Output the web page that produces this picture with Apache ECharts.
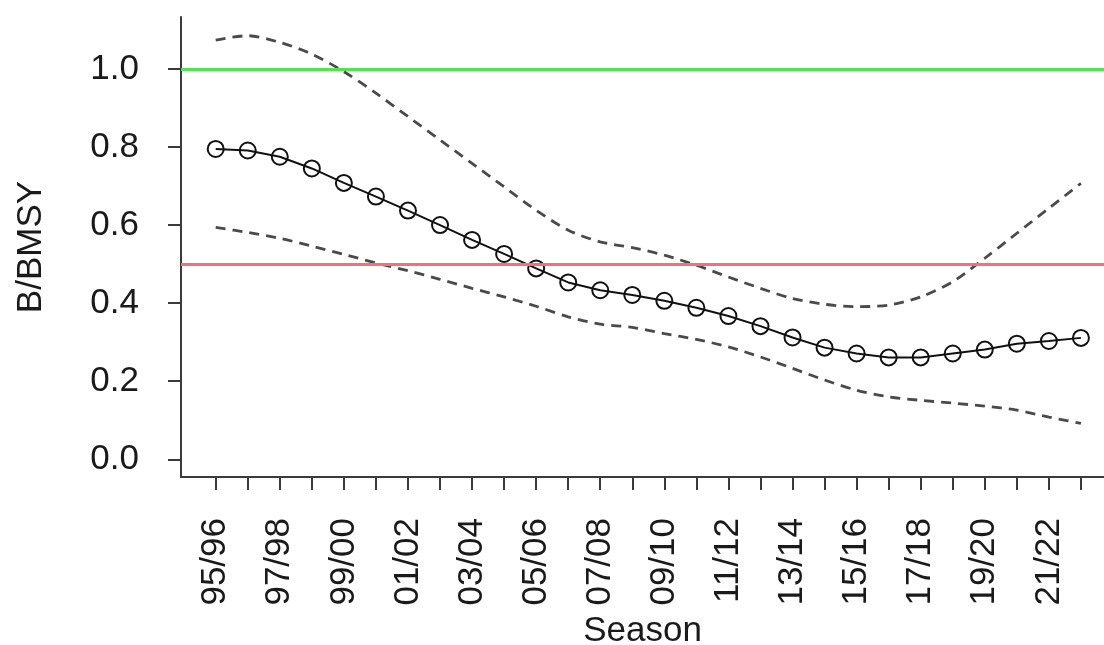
<!DOCTYPE html>
<html>
<head>
<meta charset="utf-8">
<script src="https://cdn.jsdelivr.net/npm/echarts@6/dist/echarts.min.js"></script>
<style>
html,body{margin:0;padding:0;background:#fff;}
#chart{width:1104px;height:645px;}
</style>
</head>
<body>
<div id="chart"></div>
<script>
const seasons = ['95/96','96/97','97/98','98/99','99/00','00/01','01/02','02/03','03/04','04/05',
  '05/06','06/07','07/08','08/09','09/10','10/11','11/12','12/13','13/14','14/15',
  '15/16','16/17','17/18','18/19','19/20','20/21','21/22','22/23'];
const xTickLabels = ['95/96','97/98','99/00','01/02','03/04','05/06','07/08','09/10','11/12','13/14','15/16','17/18','19/20','21/22'];
const yTicks = [0.0, 0.2, 0.4, 0.6, 0.8, 1.0];
const estimate = [0.795,0.791,0.775,0.745,0.708,0.673,0.637,0.600,0.562,0.526,
  0.489,0.453,0.433,0.421,0.406,0.388,0.367,0.341,0.312,0.286,
  0.271,0.261,0.261,0.271,0.281,0.296,0.303,0.311];
const upper = [1.074,1.085,1.068,1.038,0.993,0.938,0.878,0.818,0.758,0.698,
  0.638,0.587,0.557,0.542,0.523,0.497,0.467,0.438,0.412,0.397,
  0.391,0.395,0.416,0.455,0.515,0.579,0.643,0.707];
const lower = [0.594,0.581,0.566,0.546,0.525,0.503,0.483,0.461,0.438,0.416,
  0.392,0.365,0.346,0.338,0.322,0.307,0.288,0.262,0.233,0.203,
  0.177,0.160,0.151,0.144,0.136,0.126,0.108,0.092];
const targetLevel = [1.0];
const limitLevel = [0.5];

const toPairs = arr => arr.map((v, i) => [i, v]);
const FONT = '"Liberation Sans", Arial, Helvetica, sans-serif';
const TXT = '#1a1a1a';
const AX = '#3a3a3a';

const chart = echarts.init(document.getElementById('chart'), null, {renderer: 'canvas'});
chart.setOption({
  animation: false,
  backgroundColor: '#ffffff',
  grid: {left: 181, right: 0, top: 17, bottom: 168, containLabel: false, outerBoundsMode: 'none'},
  xAxis: {
    type: 'value',
    min: -1.083,
    max: 27.72,
    name: 'Season',
    nameLocation: 'middle',
    nameGap: 137,
    nameTextStyle: {fontFamily: FONT, fontSize: 35, color: TXT},
    axisLine: {show: true, onZero: false, lineStyle: {color: AX, width: 2}},
    axisTick: {show: true, length: 13, lineStyle: {color: AX, width: 2},
      customValues: seasons.map((s, i) => i)},
    axisLabel: {
      show: true, rotate: 90, margin: 41,
      fontFamily: FONT, fontSize: 35, color: TXT,
      customValues: xTickLabels.map(l => seasons.indexOf(l)),
      formatter: v => seasons[Math.round(v)]
    },
    splitLine: {show: false}
  },
  yAxis: {
    type: 'value',
    min: -0.0454,
    max: 1.133,
    name: 'B/BMSY',
    nameLocation: 'middle',
    nameRotate: 90,
    nameGap: 132,
    nameTextStyle: {fontFamily: FONT, fontSize: 35, color: TXT},
    axisLine: {show: true, onZero: false, lineStyle: {color: AX, width: 2}},
    axisTick: {show: true, length: 13, lineStyle: {color: AX, width: 2}, customValues: yTicks},
    axisLabel: {
      show: true, margin: 42,
      fontFamily: FONT, fontSize: 35, color: TXT,
      customValues: yTicks,
      formatter: v => v.toFixed(1)
    },
    splitLine: {show: false}
  },
  series: [
    {
      type: 'line', data: [], silent: true,
      markLine: {
        silent: true, symbol: ['none','none'], label: {show: false},
        lineStyle: {type: 'solid', width: 3, color: '#55e055'},
        data: targetLevel.map(v => ({yAxis: v}))
      }
    },
    {
      type: 'line', data: [], silent: true,
      markLine: {
        silent: true, symbol: ['none','none'], label: {show: false},
        lineStyle: {type: 'solid', width: 3, color: '#f2707c'},
        data: limitLevel.map(v => ({yAxis: v}))
      }
    },
    {
      name: 'upper', type: 'line', data: toPairs(upper), smooth: 0.3,
      showSymbol: false, symbol: 'none',
      lineStyle: {color: '#4a4a4a', width: 2.8, type: [10, 7]}
    },
    {
      name: 'lower', type: 'line', data: toPairs(lower), smooth: 0.3,
      showSymbol: false, symbol: 'none',
      lineStyle: {color: '#4a4a4a', width: 2.8, type: [10, 7]}
    },
    {
      name: 'estimate', type: 'line', data: toPairs(estimate),
      symbol: 'circle', symbolSize: 16, showSymbol: true,
      lineStyle: {color: '#111', width: 2},
      itemStyle: {color: 'rgba(0,0,0,0)', borderColor: '#111', borderWidth: 2}
    }
  ]
});
</script>
</body>
</html>
